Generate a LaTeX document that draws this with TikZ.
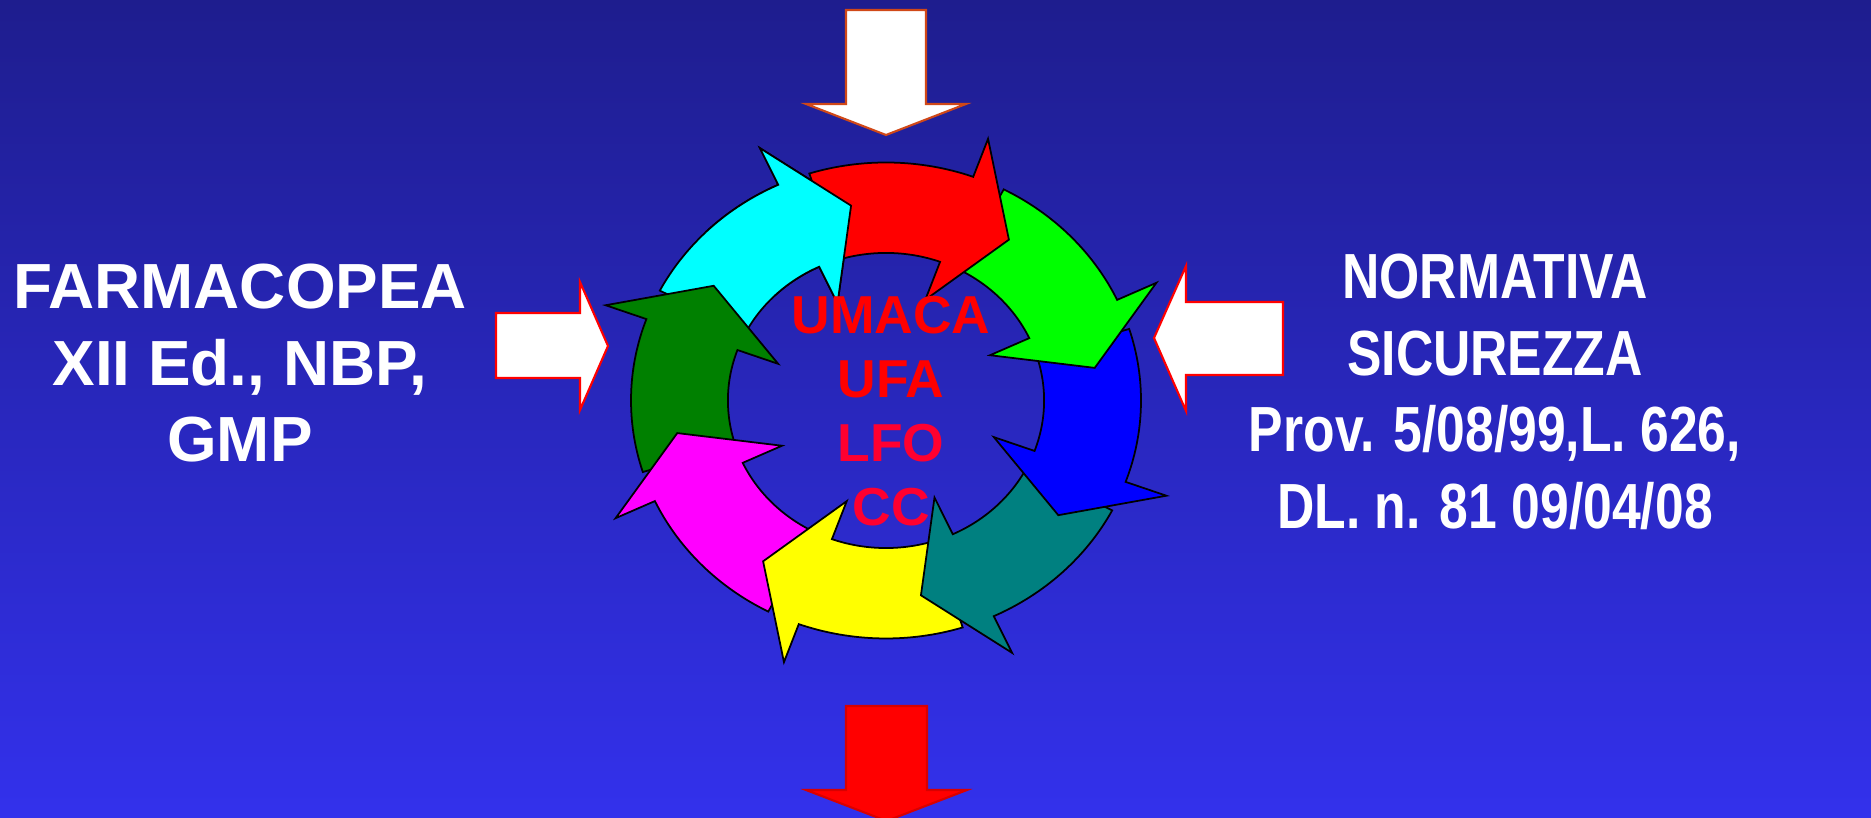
\documentclass[tikz,border=0pt]{standalone}
\usepackage{xcolor}
\usepackage{fontspec}
\setmainfont{Liberation Sans}
\newfontfamily\narrowsans{Liberation Sans}[FakeStretch=0.81]
\usepackage{tikz}

\definecolor{bgtop}{RGB}{30,29,142}
\definecolor{bgbot}{RGB}{51,49,236}
\definecolor{ringred}{RGB}{255,0,0}
\definecolor{ringgreen}{RGB}{0,255,0}
\definecolor{ringblue}{RGB}{0,0,255}
\definecolor{ringteal}{RGB}{0,128,128}
\definecolor{ringyellow}{RGB}{255,255,0}
\definecolor{ringmagenta}{RGB}{255,0,255}
\definecolor{ringdkgreen}{RGB}{0,128,0}
\definecolor{ringcyan}{RGB}{0,255,255}
\definecolor{rustline}{RGB}{208,72,24}
\definecolor{crimson}{RGB}{255,0,48}

\tikzset{
  ringpiece/.style={draw=black, line width=0.5pt, line join=miter},
  blockarrow/.style={line width=0.6pt, line join=miter},
  sidetext/.style={text=white, align=center, inner sep=0pt,
    font=\fontsize{18.15}{21.8}\selectfont\bfseries},
  unittext/.style={text=red, align=center, inner sep=0pt,
    font=\fontsize{15.2}{18.27}\selectfont\bfseries}
}

% one curved arrow of the ring, #2 = its place (0 = top)
\newcommand\ringarrow[2]{%
  \pgfmathsetmacro\arrtail{107.5-45*#2}%
  \pgfmathsetmacro\arrbase{70-45*#2}%
  \pgfmathsetmacro\arrtip{54.5-45*#2}%
  \draw[ringpiece, fill=#1] (\arrtail:1cm)
    arc[start angle=\arrtail, end angle=\arrbase, radius=1cm]
    -- (\arrbase:1.17cm) -- (\arrtip:0.83cm) -- (\arrbase:0.45cm)
    -- (\arrbase:0.62cm)
    arc[start angle=\arrbase, end angle=\arrtail, radius=0.62cm] -- cycle;}

\begin{document}
\begin{tikzpicture}
    \useasboundingbox (0,0) rectangle (18.71,8.18);
    \shade[top color=bgtop, bottom color=bgbot] (0,0) rectangle (18.71,8.18);

    % block arrows
    \draw[blockarrow, draw=rustline, fill=white] (8.46,8.08) -- (9.26,8.08) -- (9.26,7.14)
        -- (9.66,7.14) -- (8.86,6.83) -- (8.06,7.14) -- (8.46,7.14) -- cycle;
    \draw[blockarrow, draw=red!85!black, fill=red] (8.46,1.12) -- (9.27,1.12) -- (9.27,0.28)
        -- (9.67,0.28) -- (8.865,-0.03) -- (8.06,0.28) -- (8.46,0.28) -- cycle;
    \draw[blockarrow, draw=red, fill=white] (4.96,5.05) -- (5.80,5.05) -- (5.80,5.36)
        -- (6.08,4.72) -- (5.80,4.08) -- (5.80,4.40) -- (4.96,4.40) -- cycle;
    \draw[blockarrow, draw=red, fill=white] (12.83,5.16) -- (11.86,5.16) -- (11.86,5.52)
        -- (11.54,4.80) -- (11.86,4.07) -- (11.86,4.43) -- (12.83,4.43) -- cycle;

    % ring of arrows
    \begin{scope}[shift={(8.86,4.175)}, xscale=2.55, yscale=2.38]
        \foreach \col/\k in {ringcyan/7, ringdkgreen/6, ringmagenta/5, ringyellow/4,
                             ringteal/3, ringblue/2, ringgreen/1, ringred/0}
            \ringarrow{\col}{\k};
        % head of the last arrow lies over the tail of the first
        \begin{scope}
            \clip (0,0) -- (95:1.4cm) -- (115:1.45cm) -- (135:1.4cm) -- cycle;
            \ringarrow{ringcyan}{7}
        \end{scope}
    \end{scope}

    % texts
    \node[unittext, anchor=base] (units) at (8.91,2.92)
        {UMACA\\UFA\\\textcolor{crimson}{LFO}\\\textcolor{crimson}{CC}};
    \node[sidetext, anchor=base] (farma) at (2.40,3.563) {FARMACOPEA\\XII Ed., NBP,\\GMP};
    \node[sidetext, anchor=base] (norma) at (14.95,2.897)
        {\narrowsans NORMATIVA\\\narrowsans SICUREZZA\\\narrowsans Prov. 5/08/99,L. 626,\\\narrowsans DL. n. 81 09/04/08};
\end{tikzpicture}
\end{document}
